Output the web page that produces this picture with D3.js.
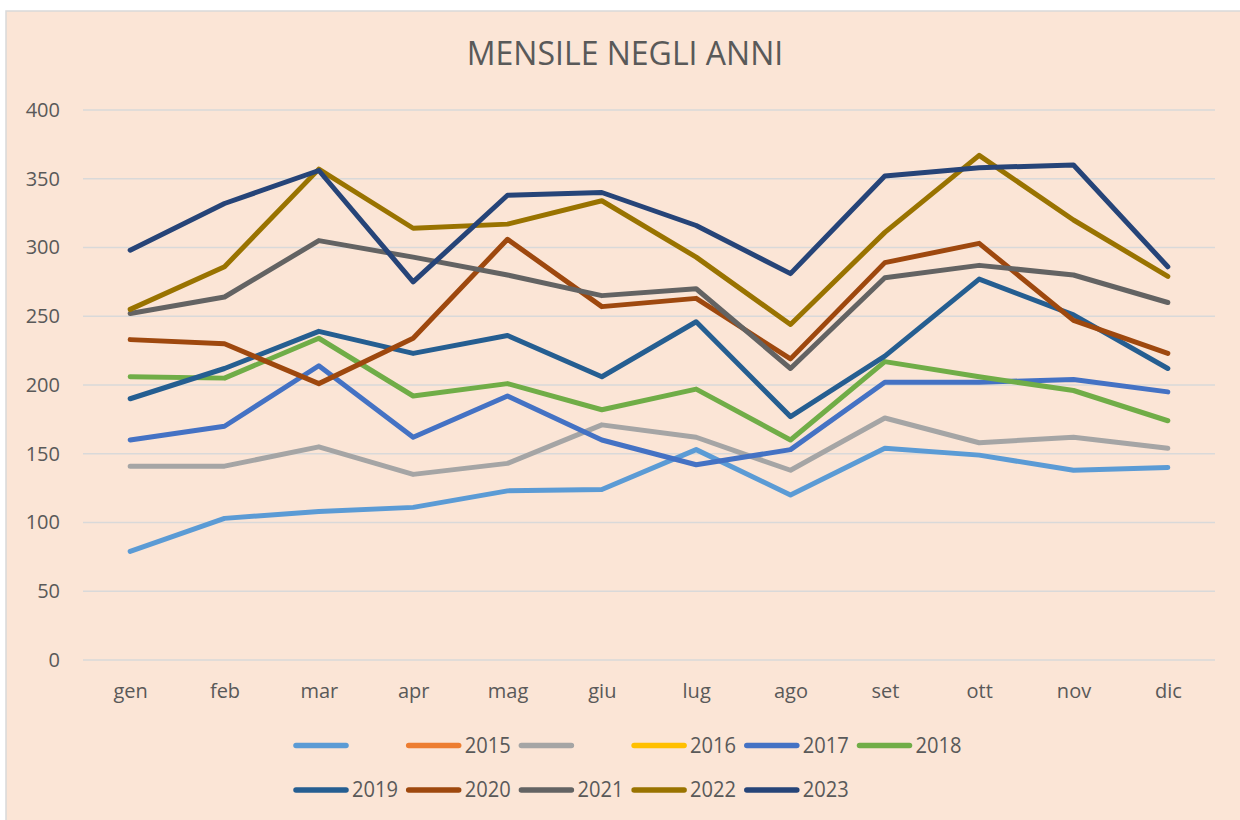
<!DOCTYPE html>
<html>
<head>
<meta charset="utf-8">
<script src="https://cdn.jsdelivr.net/npm/d3@7"></script>
<style>
  html, body { margin: 0; padding: 0; background: #fff; }
  svg { display: block; }
</style>
</head>
<body>
<div id="chart"></div>
<script>
// dati
const mesi = ["gen", "feb", "mar", "apr", "mag", "giu", "lug", "ago", "set", "ott", "nov", "dic"];
const yTicks = [0, 50, 100, 150, 200, 250, 300, 350, 400];

const serieA = [79, 103, 108, 111, 123, 124, 153, 120, 154, 149, 138, 140];
const s2015 = [];
const serieB = [141, 141, 155, 135, 143, 171, 162, 138, 176, 158, 162, 154];
const s2016 = [];
const s2017 = [160, 170, 214, 162, 192, 160, 142, 153, 202, 202, 204, 195];
const s2018 = [206, 205, 234, 192, 201, 182, 197, 160, 217, 206, 196, 174];
const s2019 = [190, 212, 239, 223, 236, 206, 246, 177, 221, 277, 251, 212];
const s2020 = [233, 230, 201, 234, 306, 257, 263, 219, 289, 303, 247, 223];
const s2021 = [252, 264, 305, 293, 280, 265, 270, 212, 278, 287, 280, 260];
const s2022 = [255, 286, 357, 314, 317, 334, 293, 244, 311, 367, 320, 279];
const s2023 = [298, 332, 356, 275, 338, 340, 316, 281, 352, 358, 360, 286];

const serieNomi = ["", "2015", "", "2016", "2017", "2018", "2019", "2020", "2021", "2022", "2023"];
const serieValori = [serieA, s2015, serieB, s2016, s2017, s2018, s2019, s2020, s2021, s2022, s2023];
const colori = ["#5B9BD5", "#ED7D31", "#A5A5A5", "#FFC000", "#4472C4", "#70AD47",
                "#255E91", "#9E480E", "#636363", "#997300", "#264478"];

const W = 1240, H = 820;
const svg = d3.select("#chart").append("svg")
    .attr("width", W).attr("height", H)
    .style("font-family", "'Open Sans', sans-serif");

// sfondo e bordo
svg.append("rect")
    .attr("x", 6).attr("y", 11)
    .attr("width", W).attr("height", H)
    .attr("fill", "#FBE5D6")
    .attr("stroke", "#D9D9D9").attr("stroke-width", 1.5);

svg.append("text")
    .attr("x", 625).attr("y", 65)
    .attr("text-anchor", "middle")
    .attr("fill", "#595959")
    .attr("font-size", 32)
    .text("MENSILE NEGLI ANNI");

const x = d3.scalePoint().domain(mesi).range([83, 1215]).padding(0.5);
const y = d3.scaleLinear().domain([0, 400]).range([660, 110]);

// griglia
svg.append("g")
    .selectAll("line")
    .data(yTicks)
    .join("line")
    .attr("x1", 83).attr("x2", 1215)
    .attr("y1", d => y(d)).attr("y2", d => y(d))
    .attr("stroke", "#D9D9D9").attr("stroke-width", 1.5);

// asse y
const yAxis = svg.append("g")
    .attr("transform", "translate(60,0)")
    .call(d3.axisLeft(y).tickValues(yTicks).tickSize(0).tickPadding(0));
yAxis.select(".domain").remove();
yAxis.selectAll("text")
    .attr("fill", "#595959").attr("font-size", 20)
    .attr("font-family", "'Open Sans', sans-serif");

// asse x
const xAxis = svg.append("g")
    .attr("transform", "translate(0,684)")
    .call(d3.axisBottom(x).tickSize(0).tickPadding(0));
xAxis.select(".domain").remove();
xAxis.selectAll("text")
    .attr("fill", "#595959").attr("font-size", 20)
    .attr("font-family", "'Open Sans', sans-serif");

// linee
const line = d3.line()
    .defined(d => d != null)
    .x((d, i) => x(mesi[i]))
    .y(d => y(d));

svg.append("g")
    .selectAll("path")
    .data(serieValori)
    .join("path")
    .attr("fill", "none")
    .attr("stroke", (d, i) => colori[i])
    .attr("stroke-width", 5)
    .attr("stroke-linejoin", "round")
    .attr("stroke-linecap", "round")
    .attr("d", d => d.length ? line(d) : null);

// legenda
const legenda = svg.append("g");
const item = legenda.selectAll("g")
    .data(serieNomi)
    .join("g")
    .attr("transform", (d, i) => {
        const riga = i < 6 ? 0 : 1;
        const col = i < 6 ? i : i - 6;
        return `translate(${296 + col * 112.7},${745.5 + riga * 44.5})`;
    });
item.append("line")
    .attr("x1", 0).attr("x2", 50)
    .attr("stroke", (d, i) => colori[i])
    .attr("stroke-width", 5.5)
    .attr("stroke-linecap", "round");
item.append("text")
    .attr("x", 56).attr("y", 7)
    .attr("fill", "#595959")
    .attr("font-size", 22)
    .attr("textLength", d => d ? 46 : null)
    .attr("lengthAdjust", "spacingAndGlyphs")
    .text(d => d);
</script>
</body>
</html>
